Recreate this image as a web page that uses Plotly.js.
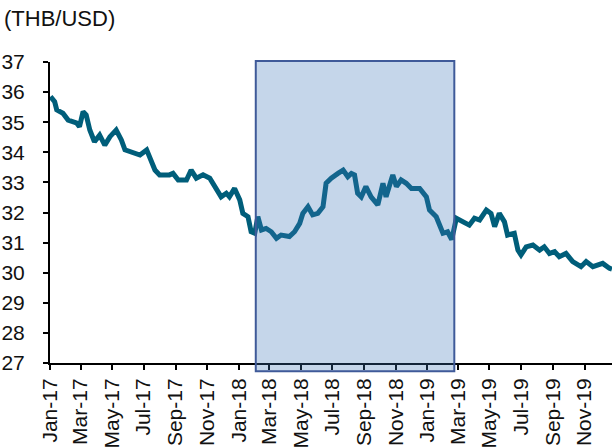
<!DOCTYPE html>
<html>
<head>
<meta charset="utf-8">
<script src="https://cdn.plot.ly/plotly-3.0.1.min.js"></script>
<style>html,body{margin:0;padding:0;background:#fff;}#chart{width:612px;height:448px;}</style>
</head>
<body>
<div id="chart"></div>
<script>
const dates = [
"2017-01-02","2017-01-04","2017-01-10","2017-01-14","2017-01-26","2017-02-05","2017-02-21","2017-02-27",
"2017-03-06","2017-03-12","2017-03-19","2017-03-28","2017-04-07","2017-04-17","2017-04-27","2017-05-09",
"2017-05-19","2017-05-26","2017-06-11","2017-06-24","2017-07-07","2017-07-13","2017-07-23","2017-08-01",
"2017-08-20","2017-08-27","2017-09-06","2017-09-22","2017-10-01","2017-10-11","2017-10-24","2017-11-06",
"2017-11-15","2017-11-28","2017-12-08","2017-12-14","2017-12-24","2018-01-03","2018-01-09","2018-01-19",
"2018-01-25","2018-02-01","2018-02-07","2018-02-14","2018-02-23","2018-03-05","2018-03-15","2018-03-24",
"2018-04-09","2018-04-19","2018-04-29","2018-05-05","2018-05-15","2018-05-24","2018-06-03","2018-06-13",
"2018-06-19","2018-06-29","2018-07-12","2018-07-22","2018-07-31","2018-08-07","2018-08-13","2018-08-19",
"2018-08-26","2018-09-04","2018-09-14","2018-09-27","2018-10-07","2018-10-13","2018-10-26","2018-11-02",
"2018-11-11","2018-11-21","2018-12-01","2018-12-17","2018-12-30","2019-01-05","2019-01-18","2019-01-24",
"2019-01-31","2019-02-09","2019-02-17","2019-02-26","2019-03-10","2019-03-23","2019-04-02","2019-04-12",
"2019-04-25","2019-05-04","2019-05-11","2019-05-20","2019-05-30","2019-06-05","2019-06-18","2019-06-25",
"2019-07-01","2019-07-11","2019-07-24","2019-08-06","2019-08-15","2019-08-25","2019-09-04","2019-09-13",
"2019-09-26","2019-10-09","2019-10-25","2019-11-04","2019-11-17","2019-12-06","2019-12-19","2019-12-24"
];
const thbPerUsd = [
35.85,35.79,35.68,35.41,35.30,35.07,34.98,34.85,
35.35,35.24,34.74,34.35,34.57,34.24,34.52,34.74,
34.41,34.08,33.97,33.91,34.08,33.85,33.41,33.25,
33.25,33.30,33.08,33.08,33.41,33.14,33.25,33.14,
32.91,32.52,32.64,32.52,32.80,32.42,31.97,31.86,
31.36,31.31,31.86,31.42,31.47,31.36,31.14,31.25,
31.20,31.36,31.64,31.97,32.19,31.92,31.97,32.19,
32.97,33.14,33.30,33.41,33.19,33.30,33.25,32.64,
32.52,32.86,32.52,32.25,32.97,32.52,33.25,32.86,
33.08,32.97,32.80,32.80,32.52,32.08,31.86,31.64,
31.31,31.36,31.10,31.81,31.69,31.58,31.81,31.75,
32.08,31.97,31.53,31.97,31.69,31.25,31.31,30.75,
30.59,30.86,30.92,30.75,30.86,30.64,30.70,30.53,
30.64,30.37,30.20,30.37,30.20,30.31,30.15,30.12
];
const yTicks = [27,28,29,30,31,32,33,34,35,36,37];
const shadeStart = "2018-02-03";
const shadeEnd = "2019-02-22";
const unitLabel = "(THB/USD)";

const font = "Liberation Sans, Arial, sans-serif";
const fs = 21;

Plotly.newPlot("chart", [{
  x: dates, y: thbPerUsd, type: "scatter", mode: "lines",
  line: {color: "#005E7A", width: 5},
  hoverinfo: "skip"
}], {
  width: 612, height: 448,
  margin: {l: 50, r: 0, t: 62, b: 85},
  paper_bgcolor: "#fff", plot_bgcolor: "#fff",
  showlegend: false,
  font: {family: font, size: fs, color: "#111"},
  title: {text: unitLabel, x: 4/612, xref: "container", xanchor: "left",
          y: 1 - 18/448, yref: "container", yanchor: "middle",
          font: {family: font, size: 22, color: "#111"}},
  xaxis: {
    type: "date", range: ["2017-01-01", "2019-12-24"],
    tick0: "2017-01-01", dtick: "M2", tickformat: "%b-%y", tickangle: -90,
    showgrid: false, zeroline: false,
    showline: true, linecolor: "#000", linewidth: 2,
    ticks: "outside", ticklen: 5, tickwidth: 2, tickcolor: "#000",
    tickfont: {family: font, size: fs, color: "#111"}
  },
  yaxis: {
    range: [27, 37], tickvals: yTicks, ticktext: yTicks.map(String),
    showgrid: false, zeroline: false,
    showline: true, linecolor: "#000", linewidth: 2,
    ticks: "outside", ticklen: 5, tickwidth: 2, tickcolor: "#000",
    ticklabelstandoff: 14,
    tickfont: {family: font, size: fs, color: "#111"}
  },
  shapes: [{
    type: "rect", xref: "x", yref: "paper",
    x0: shadeStart, x1: shadeEnd, y0: -0.027, y1: 1.003,
    fillcolor: "rgba(63,118,185,0.30)",
    line: {color: "#3F5A99", width: 2},
    layer: "above"
  }]
}, {staticPlot: true, displayModeBar: false});
</script>
</body>
</html>
